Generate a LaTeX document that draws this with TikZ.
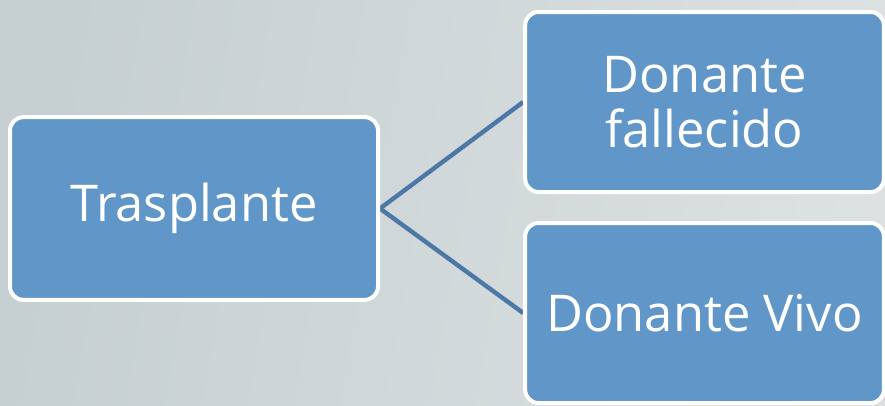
\documentclass[tikz,border=0pt]{standalone}
\usepackage{fontspec}
\setmainfont{Open Sans}
\usetikzlibrary{backgrounds}
\definecolor{boxfill}{RGB}{96,150,200}
\definecolor{linecol}{RGB}{76,120,168}
\definecolor{bgA}{RGB}{198,207,209}
\definecolor{bgB}{RGB}{220,225,225}
\begin{document}
\begin{tikzpicture}[x=0.75pt,y=-0.75pt,
  blk/.style={draw=white,line width=3pt,fill=boxfill,rounded corners=10pt,
    text=white,font=\fontsize{38}{41}\selectfont,align=center,inner sep=0pt},
  link/.style={draw=linecol,line width=3.3pt}]
\useasboundingbox (0,0) rectangle (885,405);
\node[blk,minimum width=276pt,minimum height=137pt] (t) at (194,208.5) {\raisebox{-4pt}{Trasplante}};
\node[blk,minimum width=269pt,minimum height=135pt] (f) at (704.5,102) {Donante\\fallecido};
\node[blk,minimum width=269pt,minimum height=135pt] (v) at (704.5,313) {\raisebox{-2pt}{Donante Vivo}};
\begin{scope}[on background layer]
\fill[left color=bgA,right color=bgB,shading angle=80] (0,0) rectangle (885,405);
\draw[link] (t.east) -- (f.west);
\draw[link] (t.east) -- (v.west);
\end{scope}
\end{tikzpicture}
\end{document}
